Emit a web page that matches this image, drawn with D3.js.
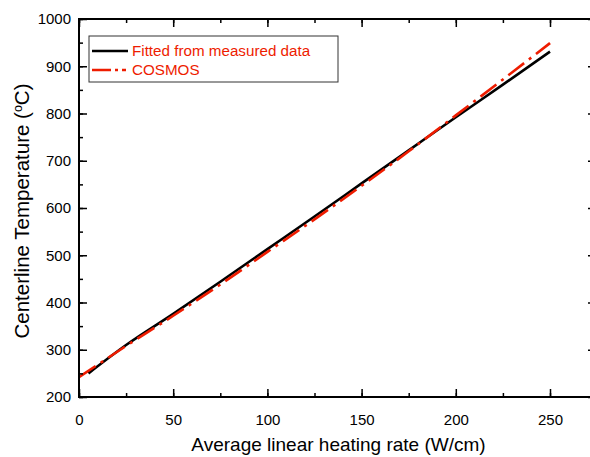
<!DOCTYPE html>
<html><head><meta charset="utf-8">
<script src="https://cdn.jsdelivr.net/npm/d3@7"></script>
<style>body{margin:0;background:#fff;overflow:hidden;} text{font-family:"Liberation Sans",Arial,sans-serif;}</style>
</head><body><svg id="c" width="590" height="457"></svg>
<script>
const xTicks = [0, 50, 100, 150, 200, 250];
const yTicks = [200, 300, 400, 500, 600, 700, 800, 900, 1000];
const fittedX = [5, 25, 50, 75, 100, 125, 150, 175, 200, 225, 250];
const fittedY = [250, 310, 376, 444, 513, 582, 652, 722, 792, 861, 931];
const cosmosX = [0, 25, 50, 75, 100, 125, 150, 175, 200, 225, 250];
const cosmosY = [242, 308, 372, 438, 507, 576, 647, 720, 796, 872, 949];
const seriesNames = ["Fitted from measured data", "COSMOS"];

const svg = d3.select("#c");
const L = 79, T = 19, B = 397;
const k = (550 - L) / 250;
const xMax = 274.4;
const R = L + xMax * k;
const x = d3.scaleLinear().domain([0, xMax]).range([L, R]);
const y = d3.scaleLinear().domain([200, 1000]).range([B, T]);
const FONT = "Liberation Sans, Arial, sans-serif";
const RED = "#ee1c00";

svg.append("clipPath").attr("id","clp").append("rect").attr("x",L).attr("y",T).attr("width",R-L).attr("height",B-T);

const line = d3.line().x(d=>x(d[0])).y(d=>y(d[1])).curve(d3.curveMonotoneX);
const g = svg.append("g").attr("clip-path","url(#clp)");
g.append("path").datum(fittedX.map((v,i)=>[v,fittedY[i]])).attr("d",line)
  .attr("fill","none").attr("stroke","#000").attr("stroke-width",2.6);
g.append("path").datum(cosmosX.map((v,i)=>[v,cosmosY[i]])).attr("d",line)
  .attr("fill","none").attr("stroke",RED).attr("stroke-width",2.6).attr("stroke-dasharray","20,6,3,6");

const xMinor = d3.range(0, 275, 25);
const yMinor = d3.range(200, 1001, 50);
function styleLines(a){ a.select(".domain").remove(); a.selectAll("line").attr("stroke","#000").attr("stroke-width",1.5); }
function styleText(a){ a.selectAll("text").attr("font-size",15).attr("fill","#000").attr("font-family",FONT); }

svg.append("g").attr("transform",`translate(0,${B})`)
  .call(d3.axisBottom(x).tickValues(xMinor).tickSize(-4).tickFormat("")).call(styleLines);
svg.append("g").attr("transform",`translate(0,${B})`)
  .call(d3.axisBottom(x).tickValues(xTicks).tickSize(-8).tickPadding(17).tickFormat(d3.format("d")))
  .call(styleLines).call(styleText);
svg.append("g").attr("transform",`translate(0,${T})`)
  .call(d3.axisTop(x).tickValues(xMinor).tickSize(-4).tickFormat("")).call(styleLines);
svg.append("g").attr("transform",`translate(0,${T})`)
  .call(d3.axisTop(x).tickValues(xTicks).tickSize(-8).tickFormat("")).call(styleLines);
svg.append("g").attr("transform",`translate(${L},0)`)
  .call(d3.axisLeft(y).tickValues(yMinor).tickSize(-4).tickFormat("")).call(styleLines);
svg.append("g").attr("transform",`translate(${L},0)`)
  .call(d3.axisLeft(y).tickValues(yTicks).tickSize(-8).tickPadding(8).tickFormat(d3.format("d")))
  .call(styleLines).call(styleText);
svg.append("g").attr("transform",`translate(${R},0)`)
  .call(d3.axisRight(y).tickValues(yMinor).tickSize(-4).tickFormat("")).call(styleLines);
svg.append("g").attr("transform",`translate(${R},0)`)
  .call(d3.axisRight(y).tickValues(yTicks).tickSize(-8).tickFormat("")).call(styleLines);
svg.append("rect").attr("x",L).attr("y",T).attr("width",R-L).attr("height",B-T)
  .attr("fill","none").attr("stroke","#000").attr("stroke-width",2);

// titles
svg.append("text").attr("x",338.5).attr("y",451).attr("text-anchor","middle")
  .attr("font-size",19).attr("fill","#000").text("Average linear heating rate (W/cm)");
const yt = svg.append("text").attr("transform",`translate(28.5,${211}) rotate(-90)`).attr("text-anchor","middle")
  .attr("font-size",20.5).attr("fill","#000");
yt.append("tspan").text("Centerline Temperature (");
yt.append("tspan").attr("dy",-7).attr("font-size",12.5).text("o");
yt.append("tspan").attr("dy",7).text("C)");

// legend
const lg = svg.append("g");
lg.append("rect").attr("x",89).attr("y",36).attr("width",249).attr("height",46).attr("fill","#fff").attr("stroke","#333").attr("stroke-width",1);
lg.append("line").attr("x1",92).attr("x2",128).attr("y1",51).attr("y2",51).attr("stroke","#000").attr("stroke-width",2.6);
lg.append("line").attr("x1",92).attr("x2",128).attr("y1",70).attr("y2",70).attr("stroke",RED).attr("stroke-width",2.6).attr("stroke-dasharray","19,4,3,4,4,10");
seriesNames.forEach((n,i)=>{
  lg.append("text").attr("x",132).attr("y",56+i*19).attr("font-size",15.2).attr("fill",RED).text(n);
});
</script></body></html>
